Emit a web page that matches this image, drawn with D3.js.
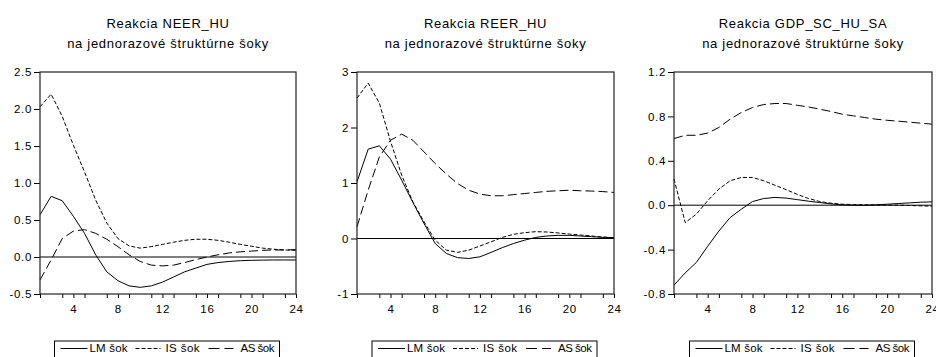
<!DOCTYPE html>
<html>
<head>
<meta charset="utf-8">
<script src="https://cdn.jsdelivr.net/npm/d3@7"></script>
<style>
  body { margin: 0; background: #fff; }
  text { font-family: "Liberation Sans", Arial, sans-serif; fill: #000; }
</style>
</head>
<body>
<div id="chart"></div>
<script>
// periods 1..24
const periods = d3.range(1, 25);
const majorTicks = [4, 8, 12, 16, 20, 24];
const minorTicks = [1, 3, 5, 7, 9, 11, 13, 15, 17, 19, 21, 23];
const seriesNames = ["LM šok", "IS šok", "AS šok"];

// Reakcia NEER_HU
const neerLM = [0.57, 0.82, 0.76, 0.55, 0.32, 0.03, -0.2, -0.32, -0.39, -0.41, -0.39, -0.34, -0.27, -0.2, -0.15, -0.1, -0.075, -0.06, -0.05, -0.045, -0.042, -0.04, -0.04, -0.04];
const neerIS = [2.03, 2.2, 1.9, 1.51, 1.15, 0.77, 0.46, 0.25, 0.15, 0.12, 0.14, 0.17, 0.2, 0.225, 0.24, 0.24, 0.225, 0.2, 0.17, 0.145, 0.12, 0.105, 0.095, 0.09];
const neerAS = [-0.31, -0.04, 0.25, 0.35, 0.37, 0.32, 0.24, 0.14, 0.03, -0.06, -0.11, -0.12, -0.11, -0.075, -0.035, 0.0, 0.03, 0.055, 0.07, 0.08, 0.09, 0.095, 0.095, 0.1];

// Reakcia REER_HU
const reerLM = [1.02, 1.61, 1.67, 1.43, 1.05, 0.65, 0.27, -0.09, -0.27, -0.345, -0.36, -0.33, -0.25, -0.165, -0.09, -0.03, 0.02, 0.045, 0.057, 0.057, 0.045, 0.033, 0.02, 0.015];
const reerIS = [2.53, 2.8, 2.44, 1.75, 1.14, 0.66, 0.3, -0.03, -0.21, -0.25, -0.21, -0.135, -0.06, 0.02, 0.075, 0.105, 0.123, 0.117, 0.1, 0.08, 0.063, 0.045, 0.027, 0.015];
const reerAS = [0.21, 0.87, 1.47, 1.77, 1.88, 1.77, 1.56, 1.35, 1.16, 0.99, 0.87, 0.8, 0.77, 0.77, 0.79, 0.81, 0.83, 0.85, 0.86, 0.87, 0.86, 0.855, 0.845, 0.83];

// Reakcia GDP_SC_HU_SA
const gdpLM = [-0.72, -0.61, -0.515, -0.37, -0.233, -0.112, -0.036, 0.033, 0.06, 0.07, 0.064, 0.05, 0.036, 0.024, 0.012, 0.003, 0.0, 0.0, 0.003, 0.009, 0.015, 0.021, 0.027, 0.03];
const gdpIS = [0.236, -0.157, -0.08, 0.04, 0.145, 0.22, 0.25, 0.25, 0.22, 0.18, 0.14, 0.097, 0.06, 0.033, 0.018, 0.009, 0.006, 0.003, 0.003, 0.0, 0.0, -0.003, -0.006, -0.009];
const gdpAS = [0.6, 0.63, 0.63, 0.65, 0.7, 0.775, 0.835, 0.88, 0.907, 0.916, 0.916, 0.9, 0.885, 0.865, 0.844, 0.82, 0.805, 0.79, 0.775, 0.765, 0.757, 0.748, 0.739, 0.73];

const yTicks1 = [-0.5, 0.0, 0.5, 1.0, 1.5, 2.0, 2.5];
const yTicks2 = [-1, 0, 1, 2, 3];
const yTicks3 = [-0.8, -0.4, 0.0, 0.4, 0.8, 1.2];

const dashes = [null, "4,2", "9,4"];

const panels = [
  { title: "Reakcia NEER_HU", left: 40, right: 296, domain: [-0.5, 2.5], ticks: yTicks1, fmt: ".1f", series: [neerLM, neerIS, neerAS] },
  { title: "Reakcia REER_HU", left: 357, right: 614, domain: [-1, 3], ticks: yTicks2, fmt: "d", series: [reerLM, reerIS, reerAS] },
  { title: "Reakcia GDP_SC_HU_SA", left: 674, right: 932, domain: [-0.8, 1.2], ticks: yTicks3, fmt: ".1f", series: [gdpLM, gdpIS, gdpAS] }
];

const plotTop = 72, plotBottom = 294;
const locale = d3.formatLocale({ decimal: ".", thousands: ",", grouping: [3], currency: ["", ""], minus: "-" });

const svg = d3.select("#chart")
   .append("svg")
   .attr("width", 936)
   .attr("height", 357);

panels.forEach(p => {
  const g = svg.append("g");
  const cx = (p.left + p.right) / 2;

  const x = d3.scaleLinear().domain([1, 24]).range([p.left, p.right]);
  const y = d3.scaleLinear().domain(p.domain).range([plotBottom, plotTop]);

  // title
  g.append("text")
     .attr("x", cx).attr("y", 28)
     .attr("text-anchor", "middle")
     .attr("font-size", 13)
     .attr("letter-spacing", 0.7)
     .text(p.title);
  g.append("text")
     .attr("x", cx).attr("y", 48)
     .attr("text-anchor", "middle")
     .attr("font-size", 13)
     .attr("letter-spacing", 0.7)
     .text("na jednorazové štruktúrne šoky");

  // y axis
  const yAxis = g.append("g")
     .attr("transform", `translate(${p.left},0)`)
     .call(d3.axisLeft(y).tickValues(p.ticks).tickSize(6).tickPadding(2).tickFormat(locale.format(p.fmt)));
  yAxis.select(".domain").remove();
  yAxis.selectAll("text").attr("font-size", 11.5).attr("letter-spacing", 0.7).attr("font-family", null);

  // x axis - minor ticks
  const xMinor = g.append("g")
     .attr("transform", `translate(0,${plotBottom})`)
     .call(d3.axisBottom(x).tickValues(minorTicks).tickSize(4).tickFormat(""));
  xMinor.select(".domain").remove();

  const xAxis = g.append("g")
     .attr("transform", `translate(0,${plotBottom})`)
     .call(d3.axisBottom(x).tickValues(majorTicks).tickSize(4).tickPadding(7));
  xAxis.select(".domain").remove();
  xAxis.selectAll("text").attr("font-size", 11.5).attr("letter-spacing", 0.7).attr("font-family", null);

  // zero line
  g.append("line")
     .attr("x1", p.left).attr("x2", p.right)
     .attr("y1", y(0)).attr("y2", y(0))
     .attr("stroke", "#000")
     .attr("stroke-width", 1);

  // lines
  const line = d3.line()
     .x((d, i) => x(periods[i]))
     .y(d => y(d));

  p.series.forEach((s, k) => {
    g.append("path")
       .datum(s)
       .attr("fill", "none")
       .attr("stroke", "#000")
       .attr("stroke-width", 1)
       .attr("stroke-dasharray", dashes[k])
       .attr("d", line);
  });

  // frame
  g.append("rect")
     .attr("x", p.left).attr("y", plotTop)
     .attr("width", p.right - p.left).attr("height", plotBottom - plotTop)
     .attr("fill", "none")
     .attr("stroke", "#222")
     .attr("stroke-width", 1.2);

  // legend
  const lx = cx - 113.5;
  const lg = g.append("g").attr("transform", `translate(${lx},341)`);
  lg.append("rect")
     .attr("x", 0).attr("y", 0)
     .attr("width", 225).attr("height", 24)
     .attr("fill", "#fff")
     .attr("stroke", "#000")
     .attr("stroke-width", 1);
  const sampleX = [[6, 33], [81, 106], [154, 179]];
  const textX = [35, 111, 186];
  seriesNames.forEach((name, k) => {
    lg.append("line")
       .attr("x1", sampleX[k][0]).attr("x2", sampleX[k][1])
       .attr("y1", 7.5).attr("y2", 7.5)
       .attr("stroke", "#000")
       .attr("stroke-width", 1)
       .attr("stroke-dasharray", k === 2 ? "11,5" : dashes[k]);
    lg.append("text")
       .attr("x", textX[k]).attr("y", 11)
       .attr("font-size", 11.5)
       .attr("textLength", k === 0 ? 38 : 34)
       .text(name);
  });
});
</script>
</body>
</html>
